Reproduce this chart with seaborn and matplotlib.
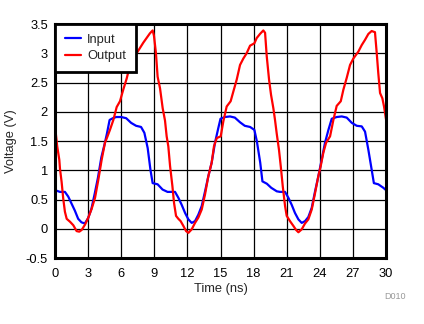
import matplotlib
matplotlib.use("Agg")
import matplotlib.pyplot as plt
import seaborn as sns
import pandas as pd
from matplotlib.ticker import FuncFormatter

# Input waveform: time (ns) and voltage (V)
t_in = [0, 0.45, 0.9, 1.2, 1.5, 1.8, 2.1, 2.4, 2.7, 3.0, 3.3, 3.6, 3.9, 4.2, 4.5, 4.7,
        4.95, 5.25, 5.55, 6.0, 6.45, 6.9, 7.35, 7.8, 8.1, 8.4, 8.65, 8.85, 9.3, 9.75,
        10.2, 10.4, 10.88, 11.18, 11.48, 11.79, 12.09, 12.39, 12.69, 12.99, 13.3, 13.6,
        13.9, 14.2, 14.5, 14.8, 15.0, 15.4, 15.86, 16.3, 16.77, 17.2, 17.68, 18.07, 18.3,
        18.6, 18.8, 19.2, 19.6, 20.1, 20.4, 20.85, 21.15, 21.45, 21.75, 22.06, 22.36,
        22.66, 22.96, 23.27, 23.57, 23.87, 24.17, 24.47, 24.78, 25.08, 25.53, 25.99,
        26.44, 26.9, 27.35, 27.8, 28.1, 28.4, 28.7, 28.9, 29.3, 29.76, 30.0]
v_in = [0.66, 0.63, 0.63, 0.55, 0.43, 0.31, 0.17, 0.11, 0.09, 0.18, 0.34, 0.6, 0.88,
        1.22, 1.45, 1.62, 1.86, 1.89, 1.91, 1.91, 1.89, 1.81, 1.76, 1.74, 1.64, 1.38,
        1.01, 0.78, 0.76, 0.67, 0.63, 0.63, 0.63, 0.53, 0.41, 0.27, 0.16, 0.1, 0.13,
        0.24, 0.39, 0.64, 0.9, 1.13, 1.47, 1.72, 1.88, 1.91, 1.92, 1.9, 1.82, 1.76,
        1.74, 1.69, 1.49, 1.13, 0.81, 0.77, 0.7, 0.64, 0.63, 0.63, 0.53, 0.41, 0.27,
        0.16, 0.1, 0.13, 0.2, 0.36, 0.64, 0.9, 1.18, 1.47, 1.69, 1.88, 1.91, 1.92,
        1.9, 1.81, 1.76, 1.75, 1.66, 1.35, 1.01, 0.78, 0.76, 0.7, 0.66]

# Output waveform: time (ns) and voltage (V)
t_out = [0, 0.2, 0.39, 0.45, 0.6, 0.75, 0.9, 1.06, 1.36, 1.66, 1.96, 2.2, 2.42, 2.72,
         3.02, 3.32, 3.63, 3.93, 4.23, 4.53, 4.74, 4.98, 5.29, 5.59, 5.89, 6.19, 6.5,
         6.8, 7.1, 7.4, 7.7, 8.0, 8.3, 8.6, 8.85, 8.97, 9.15, 9.3, 9.52, 9.76, 9.97,
         10.12, 10.27, 10.43, 10.64, 10.79, 10.97, 11.18, 11.39, 11.63, 11.88, 12.09,
         12.39, 12.69, 12.99, 13.3, 13.6, 13.9, 14.2, 14.41, 14.66, 15.02, 15.26,
         15.56, 15.92, 16.17, 16.47, 16.77, 17.07, 17.37, 17.68, 18.07, 18.28, 18.58,
         18.88, 19.04, 19.19, 19.4, 19.58, 19.79, 19.94, 20.1, 20.3, 20.46, 20.64,
         20.85, 21.0, 21.3, 21.6, 21.85, 22.06, 22.36, 22.66, 22.96, 23.27, 23.57,
         23.87, 24.08, 24.32, 24.57, 24.93, 25.23, 25.53, 25.9, 26.14, 26.44, 26.74,
         27.04, 27.5, 27.8, 28.1, 28.4, 28.7, 29.0, 29.16, 29.3, 29.46, 29.67, 29.82,
         30.0]
v_out = [1.76, 1.41, 1.18, 1.03, 0.8, 0.51, 0.29, 0.17, 0.12, 0.06, -0.04, -0.05,
         -0.02, 0.07, 0.19, 0.34, 0.53, 0.84, 1.18, 1.47, 1.57, 1.69, 1.86, 2.08, 2.18,
         2.38, 2.57, 2.8, 2.91, 3.0, 3.09, 3.18, 3.26, 3.34, 3.39, 3.3, 3.0, 2.6, 2.4,
         2.06, 1.85, 1.58, 1.41, 1.07, 0.73, 0.44, 0.22, 0.17, 0.13, 0.05, -0.04, -0.07,
         -0.01, 0.1, 0.19, 0.33, 0.59, 0.9, 1.13, 1.41, 1.55, 1.58, 1.84, 2.09, 2.18,
         2.35, 2.55, 2.8, 2.91, 3.0, 3.13, 3.17, 3.26, 3.33, 3.39, 3.35, 2.95, 2.55,
         2.29, 2.06, 1.86, 1.62, 1.35, 1.07, 0.73, 0.39, 0.22, 0.13, 0.05, -0.02, -0.06,
         -0.01, 0.09, 0.16, 0.33, 0.61, 0.9, 1.07, 1.3, 1.47, 1.58, 1.86, 2.1, 2.18,
         2.38, 2.58, 2.8, 2.91, 3.03, 3.14, 3.23, 3.33, 3.38, 3.36, 3.0, 2.66, 2.32,
         2.23, 2.09, 1.87]

x_ticks = [0, 3, 6, 9, 12, 15, 18, 21, 24, 27, 30]
y_ticks = [-0.5, 0, 0.5, 1, 1.5, 2, 2.5, 3, 3.5]

df = pd.concat([
    pd.DataFrame({"Time (ns)": t_in, "Voltage (V)": v_in, "Signal": "Input"}),
    pd.DataFrame({"Time (ns)": t_out, "Voltage (V)": v_out, "Signal": "Output"}),
], ignore_index=True)

sns.set_style("white")
plt.rcParams["font.family"] = ["Liberation Sans", "DejaVu Sans"]

FS = 9.3

fig = plt.figure(figsize=(4.24, 3.24), dpi=100)
ax = fig.add_axes([0.1297, 0.2037, 0.7807, 0.7222])

sns.lineplot(data=df, x="Time (ns)", y="Voltage (V)", hue="Signal",
             palette={"Input": "#0000FF", "Output": "#FF0000"},
             estimator=None, sort=False, linewidth=1.6, ax=ax)

ax.set_xlim(0, 30)
ax.set_ylim(-0.5, 3.5)
ax.set_xticks(x_ticks)
ax.set_yticks(y_ticks)
ax.yaxis.set_major_formatter(FuncFormatter(lambda v, p: f"{v:g}"))
ax.tick_params(axis="x", length=0, labelsize=FS, pad=7, colors="black")
ax.tick_params(axis="y", length=0, labelsize=FS, pad=5, colors="black")
ax.grid(True, color="black", linewidth=0.9)
ax.set_axisbelow(True)
for s in ax.spines.values():
    s.set_visible(True)
    s.set_color("black")
    s.set_linewidth(2.2)

ax.set_xlabel("Time (ns)", fontsize=FS, labelpad=2)
ax.set_ylabel("Voltage (V)", fontsize=FS, labelpad=6)

leg = ax.legend(loc="upper left", bbox_to_anchor=(0, 1), borderaxespad=0,
                fontsize=FS, fancybox=False, framealpha=1, edgecolor="black",
                handlelength=1.3, handletextpad=0.45, borderpad=0.75,
                labelspacing=0.35)
leg.get_frame().set_linewidth(2.0)
leg.set_title(None)

fig.text(0.958, 0.084, "D010", fontsize=6.5, color="#999999", ha="right", va="center")

fig.savefig("out.png", dpi=100)
